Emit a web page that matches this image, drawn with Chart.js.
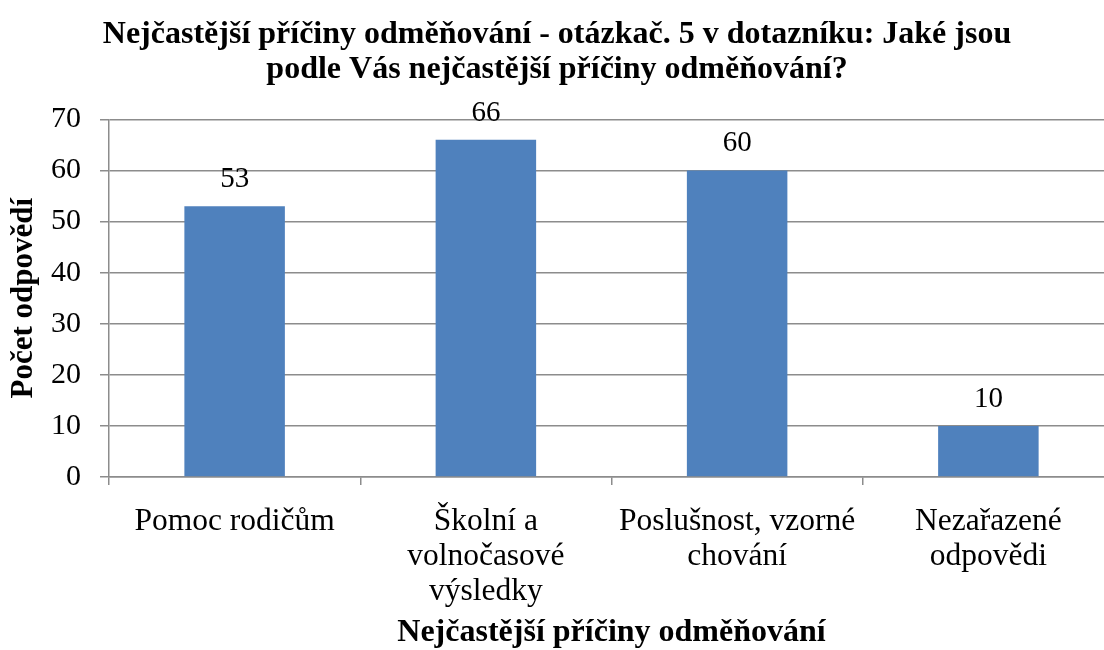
<!DOCTYPE html>
<html>
<head>
<meta charset="utf-8">
<script src="https://cdn.jsdelivr.net/npm/chart.js@4/dist/chart.umd.min.js"></script>
<style>
  html, body { margin: 0; padding: 0; background: #fff; overflow: hidden; }
  #wrap { position: relative; width: 1114px; height: 650px; }
</style>
</head>
<body>
<div id="wrap"><canvas id="chart"></canvas></div>
<script>
// data
const categories = [
    'Pomoc rodičům',
    ['Školní a', 'volnočasové', 'výsledky'],
    ['Poslušnost, vzorné', 'chování'],
    ['Nezařazené', 'odpovědi']
];
const counts = [53, 66, 60, 10];
const titleLines = [
    'Nejčastější příčiny odměňování - otázkač. 5 v dotazníku: Jaké jsou',
    'podle Vás nejčastější příčiny odměňování?'
];
const xTitle = 'Nejčastější příčiny odměňování';
const yTitle = 'Počet odpovědí';

const serif = "'Liberation Serif', 'Times New Roman', serif";
const gridColor = '#8c8c8c';

// value labels above the bars
const barLabels = {
    id: 'barLabels',
    afterDatasetsDraw(chart) {
        const ctx = chart.ctx;
        const meta = chart.getDatasetMeta(0);
        ctx.save();
        ctx.font = '29px ' + serif;
        ctx.fillStyle = '#000';
        ctx.textAlign = 'center';
        ctx.textBaseline = 'alphabetic';
        meta.data.forEach((bar, i) => {
            ctx.fillText(String(counts[i]), bar.x, bar.y - 19);
        });
        ctx.restore();
    }
};

new Chart(document.getElementById('chart').getContext('2d'), {
    type: 'bar',
    data: {
        labels: categories,
        datasets: [{
            data: counts,
            backgroundColor: '#4f81bd',
            borderWidth: 0,
            categoryPercentage: 1,
            barPercentage: 0.4
        }]
    },
    options: {
        responsive: true,
        maintainAspectRatio: false,
        animation: false,
        devicePixelRatio: 1,
        layout: { padding: 0 },
        plugins: {
            legend: { display: false },
            tooltip: { enabled: false },
            title: {
                display: true,
                text: titleLines,
                color: '#000',
                font: { family: serif, size: 32, weight: 'bold', lineHeight: 1.1 },
                padding: { top: 17, bottom: 32 }
            }
        },
        scales: {
            x: {
                afterFit(scale) { scale.height = 173; },
                grid: {
                    display: true,
                    offset: true,
                    drawOnChartArea: false,
                    drawTicks: true,
                    tickLength: 8,
                    color: gridColor,
                    lineWidth: 1.5
                },
                border: { color: gridColor, width: 1.5 },
                ticks: {
                    color: '#000',
                    padding: 19,
                    maxRotation: 0,
                    autoSkip: false,
                    font: { family: serif, size: 31.5, lineHeight: 1.12 }
                },
                title: {
                    display: true,
                    text: xTitle,
                    color: '#000',
                    font: { family: serif, size: 32, weight: 'bold' },
                    padding: { top: 0, bottom: -2 }
                }
            },
            y: {
                min: 0,
                max: 70,
                afterFit(scale) { scale.width = 109; },
                grid: {
                    color: gridColor,
                    lineWidth: 1.5,
                    drawTicks: true,
                    tickLength: 9
                },
                border: { color: gridColor, width: 1.5 },
                ticks: {
                    stepSize: 10,
                    color: '#000',
                    padding: 19,
                    font: { family: serif, size: 30 }
                },
                title: {
                    display: true,
                    text: yTitle,
                    color: '#000',
                    font: { family: serif, size: 31, weight: 'bold' },
                    padding: { top: 5, bottom: 0 }
                }
            }
        }
    },
    plugins: [barLabels]
});
</script>
</body>
</html>
